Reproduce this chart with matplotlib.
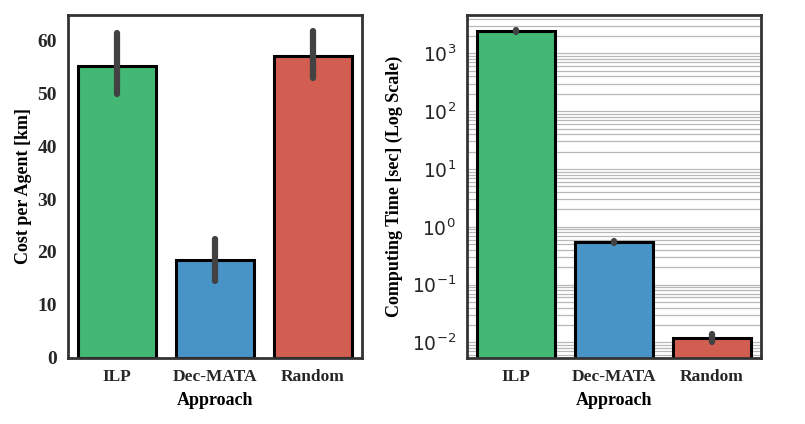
import matplotlib.pyplot as plt
import numpy as np

# Datos
approaches = ["ILP", "Dec-MATA", "Random"]
cost_mean = [55.3, 18.5, 57.2]
cost_lo = [50.0, 14.5, 53.0]
cost_hi = [61.5, 22.5, 61.8]

time_mean = [2450.0, 0.54, 0.0121]
time_lo = [2350.0, 0.52, 0.0103]
time_hi = [2560.0, 0.575, 0.0138]

bar_colors = ["#42B874", "#4994C6", "#D25D51"]
err_color = "#424242"
spine_color = "#333333"

serif = ["Liberation Serif", "DejaVu Serif"]
bold_serif = dict(family=serif, fontweight="bold")

fig = plt.figure(figsize=(8.05, 4.24), dpi=100)
ax1 = fig.add_axes([68 / 805, 1 - 357.5 / 424, 294 / 805, 343 / 424])
ax2 = fig.add_axes([467 / 805, 1 - 357.5 / 424, 294 / 805, 343 / 424])

x = np.arange(len(approaches))

# Panel izquierdo: coste por agente
ax1.bar(x, cost_mean, width=0.8, color=bar_colors, edgecolor="black", linewidth=2.2, zorder=2)
for xi, lo, hi in zip(x, cost_lo, cost_hi):
    ax1.plot([xi, xi], [lo, hi], color=err_color, lw=4.5, solid_capstyle="round", zorder=3)
ax1.set_xlim(-0.5, 2.5)
ax1.set_ylim(0, 65)
ax1.set_yticks([0, 10, 20, 30, 40, 50, 60])
ax1.set_ylabel("Cost per Agent [km]", fontsize=13, labelpad=4, **bold_serif)

# Panel derecho: tiempo de computo (log)
ax2.bar(x, time_mean, width=0.8, color=bar_colors, edgecolor="black", linewidth=2.2, zorder=2)
for xi, lo, hi in zip(x, time_lo, time_hi):
    ax2.plot([xi, xi], [lo, hi], color=err_color, lw=4.5, solid_capstyle="round", zorder=3)
ax2.set_yscale("log")
ax2.set_xlim(-0.5, 2.5)
ax2.set_ylim(0.0055, 4700)
ax2.set_yticks([1e-2, 1e-1, 1e0, 1e1, 1e2, 1e3])
ax2.grid(True, which="both", axis="y", color="#b8b8b8", lw=0.9, zorder=0)
ax2.set_axisbelow(True)
ax2.set_ylabel("Computing Time [sec] (Log Scale)", fontsize=13, labelpad=6, **bold_serif)
for lab in ax2.get_yticklabels():
    lab.set_fontsize(13.5)
    lab.set_color("#262626")

for ax in (ax1, ax2):
    ax.set_xticks(x)
    ax.set_xticklabels(approaches, fontsize=12.5, **bold_serif)
    ax.set_xlabel("Approach", fontsize=13, labelpad=5, **bold_serif)
    ax.tick_params(axis="both", which="both", length=0, pad=8, colors="#262626")
    for spine in ax.spines.values():
        spine.set_color(spine_color)
        spine.set_linewidth(2)

for lab in ax1.get_yticklabels():
    lab.set_family(serif)
    lab.set_fontweight("bold")
    lab.set_fontsize(14)

fig.savefig("out.png", dpi=100)
